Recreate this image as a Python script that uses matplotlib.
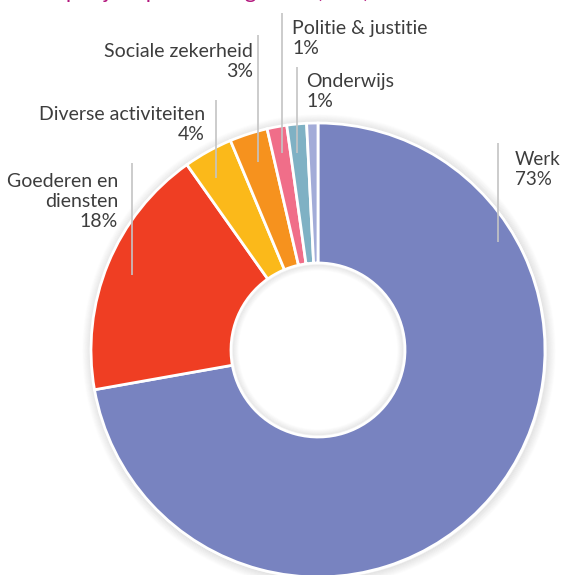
import numpy as np
import matplotlib.pyplot as plt
from matplotlib.patches import Circle

# ----------------------------
# DATA
# ----------------------------
domains = ["Werk", "Goederen en\ndiensten", "Diverse activiteiten", "Sociale zekerheid",
           "Politie & justitie", "Onderwijs", "Overig"]
shares = [72.2, 18.0, 3.5, 2.7, 1.4, 1.4, 0.8]
pct_labels = ["73%", "18%", "4%", "3%", "1%", "1%", ""]
colors = ["#7883c0", "#ef3e23", "#fbb91a", "#f6921e", "#f06e89", "#7fb1c4", "#a3acd8"]

TITLE = "Zaken per jaar per rechtsgebied (in %)"

# ----------------------------
# LAYOUT (pixel-like coords, y up)
# ----------------------------
W, H = 563, 575
CX, CY = 318, 575 - 350
R_OUT = 227
R_IN = 87
TXT = "#3d3d3d"
LINE = "#c4c4c4"
FONT = ["Lato", "DejaVu Sans"]

fig = plt.figure(figsize=(W / 100, H / 100), dpi=100)
ax = fig.add_axes([0, 0, 1, 1])

wedges, _ = ax.pie(shares, colors=colors, startangle=90, counterclock=False,
                   center=(CX, CY), radius=R_OUT,
                   wedgeprops=dict(width=R_OUT - R_IN, edgecolor="white", linewidth=2),
                   frame=True)
for w in wedges:
    w.set_zorder(2)

# soft shadow outside the ring and inside the hole
for k in range(9):
    a = 0.07 * (1 - k / 9)
    ax.add_patch(Circle((CX + 1, CY - 1), R_OUT + 1 + k, fill=False, ec="black",
                        alpha=a, lw=1.1, zorder=1))
for k in range(6):
    a = 0.06 * (1 - k / 6)
    ax.add_patch(Circle((CX, CY), R_IN - 2 - k, fill=False, ec="black",
                        alpha=a, lw=1.1, zorder=3))

ax.set_xlim(0, W)
ax.set_ylim(0, H)
ax.set_aspect("equal")
ax.axis("off")


def y(v):
    return H - v


def leader(x, y0, y1):
    ax.plot([x, x], [y(y0), y(y1)], color=LINE, lw=1.2, zorder=5, solid_capstyle="butt")


# label placement: (x, baseline of last line, align, line x, line top, line bottom, size)
label_pos = {
    0: (515, 185, "left", 498, 143, 242, 13.5),
    1: (118, 227, "right", 132, 163, 275, 14),
    2: (205, 140, "right", 216, 100, 178, 14),
    3: (253, 77, "right", 258, 35, 162, 14),
    4: (292, 54, "left", 282, 13, 153, 14),
    5: (306, 107, "left", 297, 67, 153, 14),
}

for i, (lx, ly, ha, xl, l0, l1, fs) in label_pos.items():
    leader(xl, l0, l1)
    ax.text(lx, y(ly), domains[i] + "\n" + pct_labels[i], ha=ha, va="baseline",
            multialignment=ha, fontsize=fs, color=TXT, family=FONT,
            linespacing=1.2, zorder=6)

# title, cut by the top edge of the picture
ax.text(0, y(-2), TITLE, ha="left", va="baseline", fontsize=16,
        color="#b3167d", family=FONT, zorder=6)

fig.savefig("out.png", dpi=100)
